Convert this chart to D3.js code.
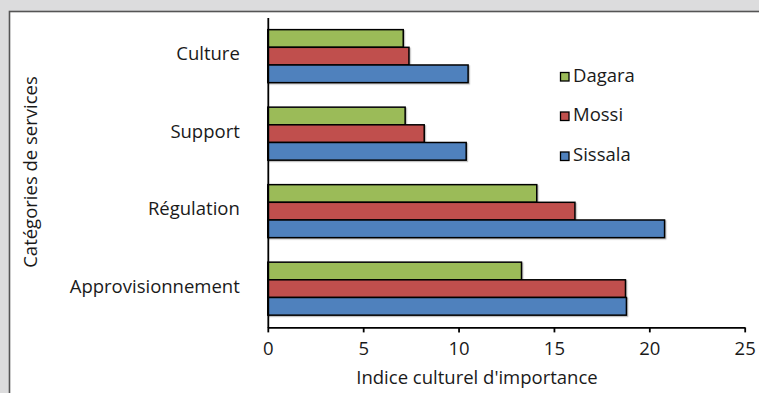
<!DOCTYPE html>
<html>
<head>
<meta charset="utf-8">
<script src="https://cdn.jsdelivr.net/npm/d3@7"></script>
<style>
  html, body { margin: 0; padding: 0; background: #dcdcdd; }
  svg { display: block; }
  text { font-family: "Open Sans", "Noto Sans", sans-serif; fill: #1a1a1a; }
</style>
</head>
<body>
<svg id="chart" width="759" height="393"></svg>
<script>
// Categories, top to bottom
const categories = ["Culture", "Support", "Régulation", "Approvisionnement"];
// Series, in the order their bars are stacked inside each group (top to bottom)
const seriesNames = ["Dagara", "Mossi", "Sissala"];
const seriesColors = ["#9bbb59", "#c0504d", "#4f81bd"];
const dagara  = [7.1, 7.2, 14.1, 13.3];
const mossi   = [7.4, 8.2, 16.1, 18.75];
const sissala = [10.5, 10.4, 20.8, 18.8];
const xTicks = [0, 5, 10, 15, 20, 25];

const seriesValues = [dagara, mossi, sissala];
const rows = categories.map((c, i) => ({
  category: c,
  values: seriesNames.map((s, j) => ({ series: s, value: seriesValues[j][i], color: seriesColors[j] }))
}));

const svg = d3.select("#chart");
const W = 759, H = 393;
const FS = 18.5;

// Grey page with a white chart panel framed by a dark border
svg.append("rect").attr("x", 0).attr("y", 0).attr("width", W).attr("height", H).attr("fill", "#dcdcdd");
svg.append("rect").attr("x", 9.5).attr("y", 11.5).attr("width", W + 20).attr("height", H + 20)
  .attr("fill", "#ffffff").attr("stroke", "#555555").attr("stroke-width", 1.6);

const plot = { left: 267.8, right: 744.7, top: 17.4, bottom: 327.4 };

const x = d3.scaleLinear().domain([0, 25]).range([plot.left, plot.right]);
const y = d3.scaleBand().domain(categories).range([plot.top, plot.bottom])
  .paddingInner(0.316).paddingOuter(0.158);
const ySeries = d3.scaleBand().domain(seriesNames).range([0, y.bandwidth()]).padding(0);

const shadow = svg.append("defs").append("filter").attr("id", "shadow")
  .attr("x", "-5%").attr("y", "-20%").attr("width", "110%").attr("height", "150%");
shadow.append("feDropShadow").attr("dx", 1.2).attr("dy", 1.2).attr("stdDeviation", 0.6)
  .attr("flood-color", "#000").attr("flood-opacity", 0.25);

// Bars
const groups = svg.append("g").selectAll("g").data(rows).join("g")
  .attr("transform", d => `translate(0,${y(d.category)})`);
groups.selectAll("rect").data(d => d.values).join("rect")
  .attr("x", x(0))
  .attr("y", d => ySeries(d.series))
  .attr("width", d => x(d.value) - x(0))
  .attr("height", ySeries.bandwidth())
  .attr("fill", d => d.color)
  .attr("stroke", "#000")
  .attr("stroke-width", 1.5)
  .attr("filter", "url(#shadow)");

// X axis with ticks pointing down
const xAxis = d3.axisBottom(x).tickValues(xTicks).tickSize(5).tickSizeOuter(0).tickPadding(6);
const gx = svg.append("g").attr("transform", `translate(0,${plot.bottom})`).call(xAxis);
gx.select(".domain").attr("stroke", "#000").attr("stroke-width", 1.8);
gx.selectAll(".tick line").attr("stroke", "#000").attr("stroke-width", 1.8);
gx.selectAll(".tick text").attr("font-size", FS).attr("font-family", "Open Sans, sans-serif")
  .attr("fill", "#1a1a1a").attr("y", 11).attr("dy", "0.92em");

// Y axis: plain line and category labels
const yAxis = d3.axisLeft(y).tickSize(0).tickPadding(28);
const gy = svg.append("g").attr("transform", `translate(${plot.left},0)`).call(yAxis);
gy.select(".domain").attr("stroke", "#000").attr("stroke-width", 1.8);
gy.selectAll(".tick text").attr("font-size", FS).attr("font-family", "Open Sans, sans-serif")
  .attr("fill", "#1a1a1a").attr("dy", "0.22em");

// Axis titles
svg.append("text").attr("x", 477).attr("y", 384).attr("text-anchor", "middle")
  .attr("font-size", FS).text("Indice culturel d'importance");
svg.append("text").attr("transform", "translate(36.5,172) rotate(-90)").attr("text-anchor", "middle")
  .attr("font-size", FS).text("Catégories de services");

// Legend
const legend = svg.append("g").attr("transform", "translate(560,0)");
const legendY = [76, 115.5, 155.5];
const items = legend.selectAll("g").data(seriesNames).join("g")
  .attr("transform", (d, i) => `translate(0,${legendY[i]})`);
items.append("rect").attr("x", 0.5).attr("y", -3.5).attr("width", 8.5).attr("height", 8.5)
  .attr("fill", (d, i) => seriesColors[i]).attr("stroke", "#000").attr("stroke-width", 1.3);
items.append("text").attr("x", 13).attr("y", 5.5).attr("font-size", FS).text(d => d);
</script>
</body>
</html>
